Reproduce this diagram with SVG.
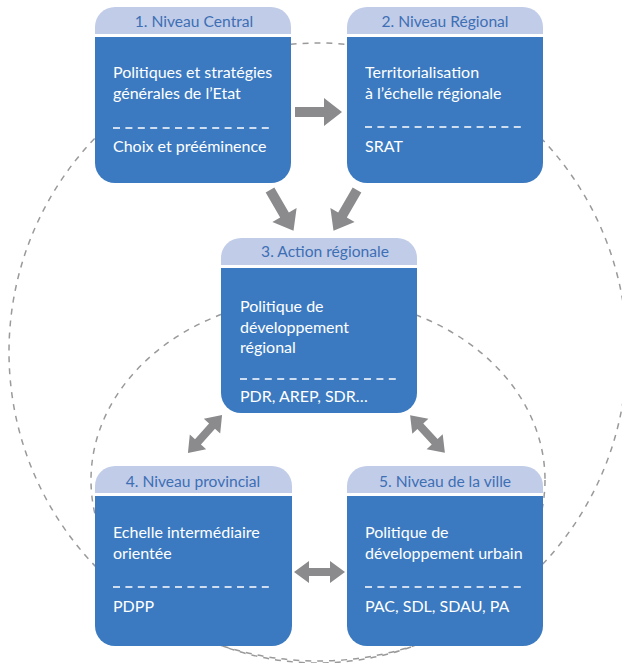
<svg xmlns="http://www.w3.org/2000/svg" width="622" height="663" viewBox="0 0 622 663">
  <style>
    .hdr { fill: #c1cce8; }
    .body { fill: #3b7ac0; }
    .ht { font-family: Lato, "Open Sans", "Liberation Sans", sans-serif; font-size: 15.6px; fill: #3d6fb5; text-anchor: middle; }
    .bt { font-family: Lato, "Open Sans", "Liberation Sans", sans-serif; font-size: 16px; fill: #ffffff; }
    .sep { stroke: #ffffff; stroke-width: 1.3; stroke-dasharray: 7 5.4; fill: none; }
    .ring { stroke: #9a9a9a; stroke-width: 1.5; stroke-dasharray: 6 6; fill: none; }
    .arr { fill: #8b8b8d; }
  </style>
  <defs>
    <polygon id="arrow1" points="0,-5 29,-5 29,-14 47,0 29,14 29,5 0,5"/>
    <polygon id="arrow2" points="-25.5,0 -10.5,-11 -10.5,-4 10.5,-4 10.5,-11 25.5,0 10.5,11 10.5,4 -10.5,4 -10.5,11"/>
  </defs>

  <!-- background rings -->
  <g id="rings">
    <circle class="ring" cx="318" cy="352" r="309"/>
    <ellipse class="ring" cx="318" cy="480" rx="227" ry="183"/>
  </g>

  <!-- connectors -->
  <g id="connectors" class="arr">
    <use href="#arrow1" transform="translate(295,112)"/>
    <use href="#arrow1" transform="translate(270,190) rotate(60)"/>
    <use href="#arrow1" transform="translate(357,190) rotate(120)"/>
    <use href="#arrow2" transform="translate(205,434) rotate(-48)"/>
    <use href="#arrow2" transform="translate(427.5,434) rotate(47)"/>
    <use href="#arrow2" transform="translate(319.5,572)"/>
  </g>

  <g id="node1">
    <path class="hdr" d="M95,34 V27 A20,20 0 0 1 115,7 H271 A20,20 0 0 1 291,27 V34 Z"/>
    <path class="body" d="M95,37 H291 V163 A20,20 0 0 1 271,183 H115 A20,20 0 0 1 95,163 Z"/>
    <text class="ht" x="194" y="27">1. Niveau Central</text>
    <text class="bt" x="113" y="78">Politiques et stratégies</text>
    <text class="bt" x="113" y="99">générales de l’Etat</text>
    <line class="sep" x1="113" y1="128" x2="274" y2="128"/>
    <text class="bt" x="113" y="152">Choix et prééminence</text>
  </g>

  <g id="node2">
    <path class="hdr" d="M347,34 V27 A20,20 0 0 1 367,7 H523 A20,20 0 0 1 543,27 V34 Z"/>
    <path class="body" d="M347,37 H543 V163 A20,20 0 0 1 523,183 H367 A20,20 0 0 1 347,163 Z"/>
    <text class="ht" x="445" y="27">2. Niveau Régional</text>
    <text class="bt" x="365" y="78">Territorialisation</text>
    <text class="bt" x="365" y="99">à l’échelle régionale</text>
    <line class="sep" x1="365" y1="127" x2="526" y2="127"/>
    <text class="bt" x="365" y="152">SRAT</text>
  </g>

  <g id="node3">
    <path class="hdr" d="M221,265 V258 A20,20 0 0 1 241,238 H397 A20,20 0 0 1 417,258 V265 Z"/>
    <path class="body" d="M221,268 H417 V393 A20,20 0 0 1 397,413 H241 A20,20 0 0 1 221,393 Z"/>
    <text class="ht" x="325" y="257">3. Action régionale</text>
    <text class="bt" x="240" y="312">Politique de</text>
    <text class="bt" x="240" y="333">développement</text>
    <text class="bt" x="240" y="353">régional</text>
    <line class="sep" x1="240" y1="379" x2="401" y2="379"/>
    <text class="bt" x="240" y="402">PDR, AREP, SDR…</text>
  </g>

  <g id="node4">
    <path class="hdr" d="M95,493 V486 A20,20 0 0 1 115,466 H272 A20,20 0 0 1 292,486 V493 Z"/>
    <path class="body" d="M95,496 H292 V626 A20,20 0 0 1 272,646 H115 A20,20 0 0 1 95,626 Z"/>
    <text class="ht" x="193" y="487">4. Niveau provincial</text>
    <text class="bt" x="113" y="538">Echelle intermédiaire</text>
    <text class="bt" x="113" y="559">orientée</text>
    <line class="sep" x1="113" y1="587" x2="274" y2="587"/>
    <text class="bt" x="113" y="612">PDPP</text>
  </g>

  <g id="node5">
    <path class="hdr" d="M347,493 V486 A20,20 0 0 1 367,466 H523 A20,20 0 0 1 543,486 V493 Z"/>
    <path class="body" d="M347,496 H543 V626 A20,20 0 0 1 523,646 H367 A20,20 0 0 1 347,626 Z"/>
    <text class="ht" x="445" y="487">5. Niveau de la ville</text>
    <text class="bt" x="365" y="538">Politique de</text>
    <text class="bt" x="365" y="559">développement urbain</text>
    <line class="sep" x1="365" y1="587" x2="526" y2="587"/>
    <text class="bt" x="365" y="612">PAC, SDL, SDAU, PA</text>
  </g>
</svg>
